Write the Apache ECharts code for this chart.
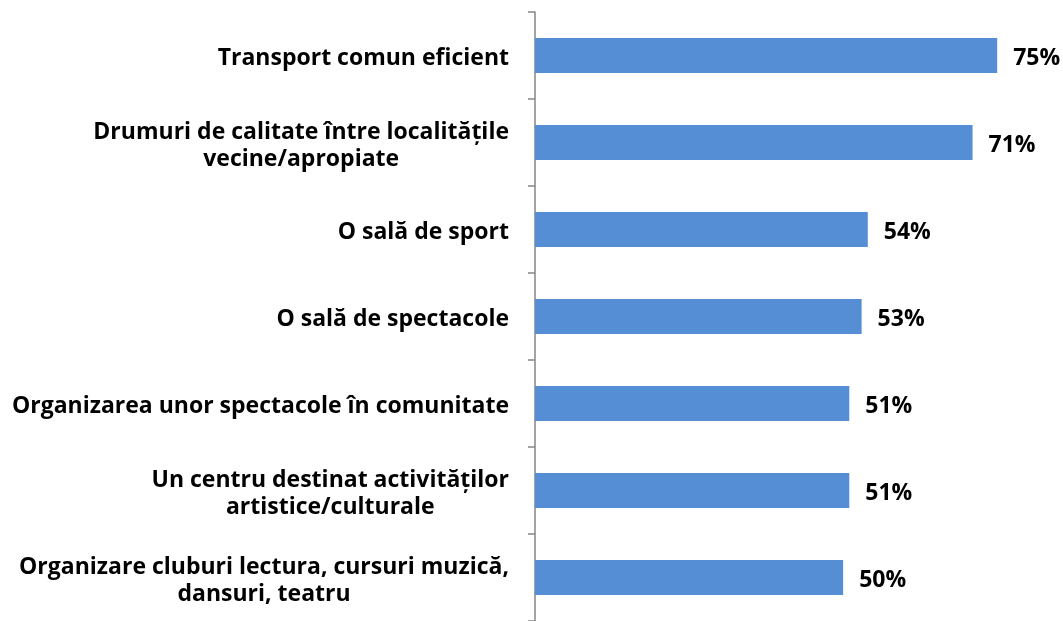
<!DOCTYPE html>
<html>
<head>
<meta charset="utf-8">
<script src="https://cdn.jsdelivr.net/npm/echarts@6/dist/echarts.min.js"></script>
<style>
  html, body { margin: 0; padding: 0; background: #fff; }
  #chart { width: 1063px; height: 621px; }
</style>
</head>
<body>
<div id="chart"></div>
<script>
  // categories, top to bottom
  var categories = [
    'Transport comun eficient',
    'Drumuri de calitate între localitățile\nvecine/apropiate',
    'O sală de sport',
    'O sală de spectacole',
    'Organizarea unor spectacole în comunitate',
    'Un centru destinat activităților\nartistice/culturale',
    'Organizare cluburi lectura, cursuri muzică,\ndansuri, teatru'
  ];
  var values = [75, 71, 54, 53, 51, 51, 50];

  var myChart = echarts.init(document.getElementById('chart'));
  var font = '"Open Sans", sans-serif';

  var option = {
    animation: false,
    grid: { left: 535, top: 12, width: 493, height: 612 },
    xAxis: {
      type: 'value',
      min: 0,
      max: 80,
      show: false
    },
    yAxis: {
      type: 'category',
      inverse: true,
      data: categories,
      axisLine: { show: true, lineStyle: { color: '#868686', width: 1.5 } },
      axisTick: { show: true, length: 7, lineStyle: { color: '#868686', width: 1.5 } },
      axisLabel: {
        margin: 26,
        padding: [6, 0, 0, 0],
        fontFamily: font,
        fontWeight: 'bold',
        fontSize: 23,
        color: '#000',
        lineHeight: 27,
        formatter: function (v) {
          return v.split('\n').map(function (s) { return '{c|' + s + '}'; }).join('\n');
        },
        rich: {
          c: { align: 'center', fontFamily: font, fontWeight: 'bold', fontSize: 23, lineHeight: 27, color: '#000' }
        }
      }
    },
    series: [{
      type: 'bar',
      data: values,
      barWidth: 35,
      itemStyle: { color: '#558ED5' },
      label: {
        show: true,
        position: 'right',
        distance: 16,
        offset: [0, 3],
        formatter: '{c}%',
        fontFamily: font,
        fontWeight: 'bold',
        fontSize: 23,
        color: '#000'
      }
    }]
  };

  option && myChart.setOption(option);
</script>
</body>
</html>
